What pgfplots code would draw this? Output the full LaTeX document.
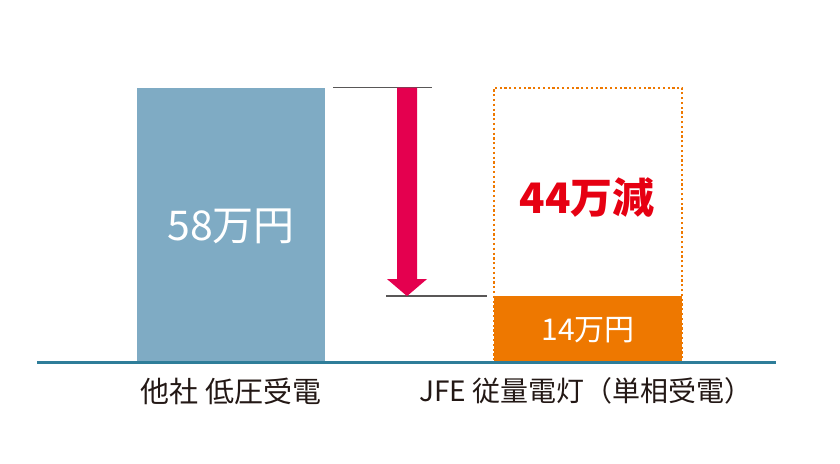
\documentclass[border=0pt]{standalone}
\usepackage{pgfplots}
\pgfplotsset{compat=1.18}
\usepackage{fontspec}
\setmainfont{Noto Sans CJK JP}
\definecolor{barblue}{HTML}{7FABC4}
\definecolor{barorange}{HTML}{EE7800}
\definecolor{baseteal}{HTML}{2E7D99}
\definecolor{arrowred}{HTML}{E4004F}
\definecolor{txtred}{HTML}{E60012}
\definecolor{lgray}{HTML}{595757}
\definecolor{txtdark}{HTML}{231815}
\begin{document}
\begin{tikzpicture}
\begin{axis}[
  scale only axis, width=840pt, height=463pt,
  xmin=0, xmax=840, ymin=-21.2, ymax=76.46,
  axis lines=none, clip=false,
]
% dotted outline of former cost
\addplot[ybar, bar width=188, bar shift=0pt, draw=barorange, line width=2pt, dash pattern=on 2.2pt off 2.6pt, fill=none] coordinates {(588,58)};
% bars
\addplot[ybar, bar width=188, bar shift=0pt, draw=none, fill=barblue] coordinates {(231,58)};
\addplot[ybar, bar width=188, bar shift=0pt, draw=none, fill=barorange] coordinates {(588,14)};
% baseline
\addplot[baseteal, line width=3.5pt] coordinates {(37,0) (776,0)};
% reference lines
\addplot[lgray, line width=1.5pt] coordinates {(333,58) (432,58)};
\addplot[lgray, line width=1.5pt] coordinates {(386,14) (487,14)};
% arrow
\addplot[fill=arrowred, draw=none] coordinates {(397,58) (417,58) (417,17.6) (427,17.6) (407,14) (387,17.6) (397,17.6)} -- cycle;
% texts
\node[white, font=\fontsize{41}{45}\selectfont] at (axis cs:231,28.8) {58万円};
\node[white, font=\fontsize{30}{34}\selectfont] at (axis cs:588,6.85) {14万円};
\node[txtred, font=\fontsize{42}{46}\selectfont\bfseries] at (axis cs:587,34.7) {44万減};
\node[txtdark, font=\fontsize{29}{33}\selectfont] at (axis cs:231,-6.0) {他社 低圧受電};
\node[txtdark, font=\fontsize{28}{32}\selectfont] at (axis cs:586,-6.0) {JFE 従量電灯（単相受電）};
\end{axis}
\path (current axis.south west) (current axis.north east);
\end{tikzpicture}
\end{document}
